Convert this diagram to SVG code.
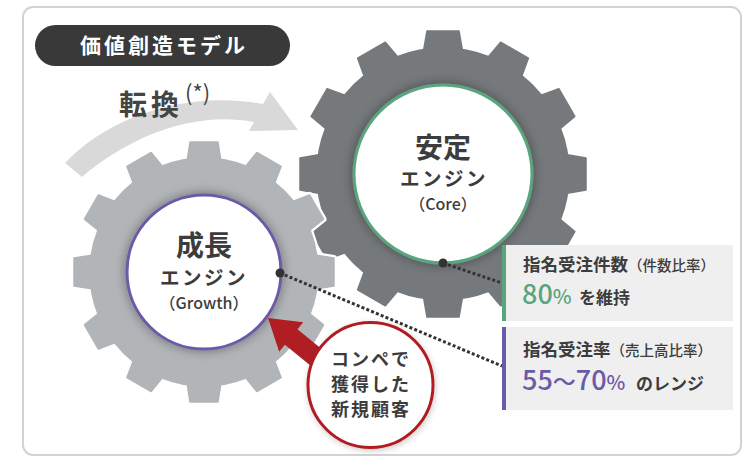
<svg xmlns="http://www.w3.org/2000/svg" xmlns:xlink="http://www.w3.org/1999/xlink" width="743" height="457" viewBox="0 0 743 457">
<style>
text{font-family:"Noto Sans CJK JP","Noto Sans",sans-serif;fill:#3c3c3c}
.b{font-weight:700}
.m{font-weight:500}
.dots{stroke:#333;stroke-width:3;stroke-dasharray:3 2.2;fill:none}
.box{fill:#efefef}
</style>
<defs>
<filter id="sh" x="-40%" y="-40%" width="180%" height="180%">
<feGaussianBlur in="SourceAlpha" stdDeviation="6"/>
<feComponentTransfer><feFuncA type="linear" slope="0.4"/></feComponentTransfer>
<feMerge><feMergeNode/><feMergeNode in="SourceGraphic"/></feMerge>
</filter>
<filter id="sh2" x="-30%" y="-30%" width="160%" height="160%">
<feGaussianBlur in="SourceAlpha" stdDeviation="3"/>
<feOffset dx="1" dy="2"/>
<feComponentTransfer><feFuncA type="linear" slope="0.2"/></feComponentTransfer>
<feMerge><feMergeNode/><feMergeNode in="SourceGraphic"/></feMerge>
</filter>
<path id="toothC" d="M-21.8,-110 L-16,-143 L16,-143 L21.8,-110 Z"/>
<path id="toothG" d="M-18.7,-100 L-14,-130 L14,-130 L18.7,-100 Z"/>
<g id="gearC">
<circle r="126"/>
<use xlink:href="#toothC"/><use xlink:href="#toothC" transform="rotate(30)"/><use xlink:href="#toothC" transform="rotate(60)"/><use xlink:href="#toothC" transform="rotate(90)"/><use xlink:href="#toothC" transform="rotate(120)"/><use xlink:href="#toothC" transform="rotate(150)"/><use xlink:href="#toothC" transform="rotate(180)"/><use xlink:href="#toothC" transform="rotate(210)"/><use xlink:href="#toothC" transform="rotate(240)"/><use xlink:href="#toothC" transform="rotate(270)"/><use xlink:href="#toothC" transform="rotate(300)"/><use xlink:href="#toothC" transform="rotate(330)"/>
</g>
<g id="gearG">
<circle r="114"/>
<use xlink:href="#toothG"/><use xlink:href="#toothG" transform="rotate(30)"/><use xlink:href="#toothG" transform="rotate(60)"/><use xlink:href="#toothG" transform="rotate(90)"/><use xlink:href="#toothG" transform="rotate(120)"/><use xlink:href="#toothG" transform="rotate(150)"/><use xlink:href="#toothG" transform="rotate(180)"/><use xlink:href="#toothG" transform="rotate(210)"/><use xlink:href="#toothG" transform="rotate(240)"/><use xlink:href="#toothG" transform="rotate(270)"/><use xlink:href="#toothG" transform="rotate(300)"/><use xlink:href="#toothG" transform="rotate(330)"/>
</g>
</defs>

<rect x="23" y="7" width="718" height="448" rx="10" fill="#fff" stroke="#d3d3d3" stroke-width="2"/>

<g id="title">
<rect x="35" y="25" width="255" height="41" rx="20.5" fill="#393939"/>
<text x="164" y="53" text-anchor="middle" font-size="21" letter-spacing="3" class="b" style="fill:#fff">価値創造モデル</text>
</g>

<g id="transform-arrow">
<path d="M65,163 C110,115 190,90 263,104 L270,92 L298,130 L249,131 L254,122 C190,110 125,140 82,177 Z" fill="#d9d9d9"/>
<text x="119" y="115" font-size="28" letter-spacing="4" class="b" style="fill:#444">転換</text>
<text x="185" y="101" font-size="22" style="fill:#444">(*)</text>
</g>

<g id="core-engine">
<g transform="translate(443,174)" fill="#76797c" stroke="#76797c" stroke-width="1.5" stroke-linejoin="round"><use xlink:href="#gearC"/></g>
<circle cx="443" cy="174" r="89" fill="#fff" stroke="#5aa57e" stroke-width="3" filter="url(#sh)"/>
<text x="443" y="158" text-anchor="middle" font-size="28" class="b">安定</text>
<text x="444" y="186" text-anchor="middle" font-size="19.5" letter-spacing="2.5" class="b">エンジン</text>
<text x="443" y="210" text-anchor="middle" font-size="16" class="m">（Core）</text>
</g>

<g id="growth-engine">
<g transform="translate(204,272)" fill="#fff" stroke="#fff" stroke-width="6" stroke-linejoin="round"><use xlink:href="#gearG"/></g>
<g transform="translate(204,272)" fill="#b2b5b8" stroke="#b2b5b8" stroke-width="1.5" stroke-linejoin="round"><use xlink:href="#gearG"/></g>
<circle cx="204" cy="272" r="77" fill="#fff" stroke="#6a5aa8" stroke-width="3" filter="url(#sh)"/>
<text x="204" y="256" text-anchor="middle" font-size="28" class="b">成長</text>
<text x="204" y="285" text-anchor="middle" font-size="19.5" letter-spacing="2.5" class="b">エンジン</text>
<text x="204" y="309" text-anchor="middle" font-size="16" class="m">（Growth）</text>
</g>

<g id="connectors">
<path class="dots" d="M443,263 L502,283"/>
<path class="dots" d="M280,273 L502,366"/>
<circle cx="443" cy="263" r="4.5" fill="#333"/>
<circle cx="280" cy="273" r="4.5" fill="#333"/>
<path d="M268,318 L303.2,322.3 L297.5,329.3 L347.8,370.4 L335.2,385.8 L284.9,344.7 L279.2,351.7 Z" fill="#b01e24"/>
</g>

<g id="new-customers">
<circle cx="370.5" cy="385" r="62.5" fill="#fff" stroke="#b01e24" stroke-width="3" filter="url(#sh2)"/>
<text x="371" y="366" text-anchor="middle" font-size="18" letter-spacing="2" class="b">コンペで</text>
<text x="371" y="391" text-anchor="middle" font-size="18" letter-spacing="2" class="b">獲得した</text>
<text x="371" y="416" text-anchor="middle" font-size="18" letter-spacing="2" class="b">新規顧客</text>
</g>

<g id="box-core">
<rect class="box" x="502" y="245" width="231" height="76"/>
<rect x="502" y="245" width="4" height="76" fill="#5aa57e"/>
<text x="523" y="271" font-size="17.5" class="b">指名受注件数<tspan font-size="14.5" class="m">（件数比率）</tspan></text>
<text x="522" y="304" font-size="27" class="m" style="fill:#5aa57e">80<tspan font-size="20">%</tspan></text>
<text x="579" y="304" font-size="17" class="b">を維持</text>
</g>

<g id="box-growth">
<rect class="box" x="502" y="327" width="231" height="83"/>
<rect x="502" y="327" width="4" height="83" fill="#6a5aa8"/>
<text x="523" y="356" font-size="17.5" class="b">指名受注率<tspan font-size="14.5" class="m">（売上高比率）</tspan></text>
<text x="522" y="389.5" font-size="27" class="m" style="fill:#6a5aa8">55<tspan font-size="23">〜</tspan>70<tspan font-size="20">%</tspan></text>
<text x="636" y="389.5" font-size="17" class="b">のレンジ</text>
</g>
</svg>
